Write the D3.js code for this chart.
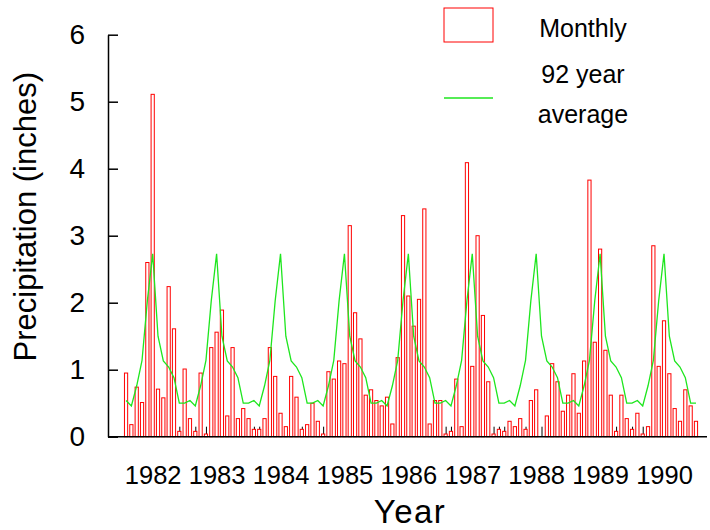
<!DOCTYPE html>
<html>
<head>
<meta charset="utf-8">
<script src="https://cdn.jsdelivr.net/npm/d3@7"></script>
<style>
  html, body { margin: 0; padding: 0; background: #fff; }
  svg { display: block; }
  text { font-family: "Liberation Sans", Arial, sans-serif; fill: #000; }
</style>
</head>
<body>
<svg id="chart" width="710" height="530"></svg>
<script>
// Monthly precipitation (inches), Aug 1981 .. Jul 1990
const monthly = [
  0.95, 0.18, 0.74, 0.51, 2.60, 5.11, 0.71, 0.58, 2.24, 1.61, 0.08, 1.01,
  0.27, 0.08, 0.95, 0.04, 1.33, 1.56, 1.89, 0.31, 1.33, 0.27, 0.42, 0.27,
  0.11, 0.11, 0.27, 1.33, 0.90, 0.35, 0.15, 0.90, 0.59, 0.11, 0.18, 0.50,
  0.23, 0.04, 0.97, 0.86, 1.13, 1.09, 3.15, 1.85, 1.46, 0.62, 0.70, 0.54,
  0.46, 0.59, 0.19, 1.18, 3.30, 2.10, 1.65, 2.05, 3.40, 0.19, 0.54, 0.54,
  0.04, 0.08, 0.86, 0.15, 4.09, 1.05, 3.00, 1.81, 0.82, 0.04, 0.11, 0.08,
  0.23, 0.15, 0.27, 0.11, 0.54, 0.70, 0.00, 0.31, 1.09, 0.82, 0.38, 0.62,
  0.94, 0.35, 1.13, 3.83, 1.41, 2.80, 1.29, 0.62, 0.08, 0.62, 0.27, 0.11,
  0.35, 0.04, 0.15, 2.85, 1.05, 1.73, 0.94, 0.42, 0.23, 0.70, 0.46, 0.23
];
// 92-year average by calendar month (Jan..Dec)
const average92 = [2.73, 1.50, 1.13, 1.04, 0.88, 0.50, 0.50, 0.54, 0.46, 0.76, 1.14, 2.03];
const startYear = 1981, startMonth = 8; // first bar = Aug 1981
const yearLabels = [1982, 1983, 1984, 1985, 1986, 1987, 1988, 1989, 1990];
const yTicks = [0, 1, 2, 3, 4, 5, 6];
const legendLabels = ["Monthly", "92 year", "average"];

const svg = d3.select("#chart");
const font = '"Liberation Sans", Arial, sans-serif';

const x = d3.scaleLinear().domain([-3.39, 109.07]).range([108, 707]);
const y = d3.scaleLinear().domain([0, 6]).range([436.7, 34.7]);

const calMonth = i => (startMonth - 1 + i) % 12; // 0 = Jan
const data = monthly.map((v, i) => ({ i, v, avg: average92[calMonth(i)] }));
// index of January of a given year
const janIdx = yr => (yr - startYear) * 12 - (startMonth - 1);

// monthly minor ticks (drawn under the bars)
const xAxis = d3.axisBottom(x)
  .tickValues(data.map(d => d.i))
  .tickSizeInner(-10).tickSizeOuter(0)
  .tickFormat("");
const gx = svg.append("g").attr("transform", `translate(0,${y(0)})`).call(xAxis);
gx.select(".domain").remove();
gx.selectAll(".tick line").attr("stroke", "#000").attr("stroke-width", 1);

// bars
const bw = 3.2;
svg.append("g").selectAll("rect").data(data.filter(d => d.v > 0)).join("rect")
  .attr("x", d => x(d.i) - bw / 2)
  .attr("y", d => y(d.v))
  .attr("width", bw)
  .attr("height", d => y(0) - y(d.v))
  .attr("fill", "#fff")
  .attr("stroke", "#ff0000")
  .attr("stroke-width", 1);

// 92-year average line
const line = d3.line().x(d => x(d.i)).y(d => y(d.avg));
svg.append("path").datum(data).attr("d", line)
  .attr("fill", "none").attr("stroke", "#1ee61e").attr("stroke-width", 1.3);

// bottom axis line
svg.append("line").attr("x1", 108).attr("x2", 707).attr("y1", y(0)).attr("y2", y(0))
  .attr("stroke", "#000").attr("stroke-width", 1.5);

// year labels
const yearAxis = d3.axisBottom(x)
  .tickValues(yearLabels.map(janIdx))
  .tickSize(0).tickPadding(29)
  .tickFormat((d, k) => yearLabels[k]);
const gy2 = svg.append("g").attr("transform", `translate(0,${y(0)})`).call(yearAxis);
gy2.select(".domain").remove();
gy2.selectAll("text").attr("font-family", font).attr("font-size", 25.5).attr("fill", "#000");

// y axis with inward ticks
const yAxis = d3.axisLeft(y).tickValues(yTicks)
  .tickSizeInner(-10).tickSizeOuter(0).tickPadding(23)
  .tickFormat(d3.format("d"));
const gy = svg.append("g").attr("transform", "translate(108,0)").call(yAxis);
gy.select(".domain").attr("stroke", "#000").attr("stroke-width", 1.5);
gy.selectAll(".tick line").attr("stroke", "#000").attr("stroke-width", 1.5);
gy.selectAll("text").attr("font-family", font).attr("font-size", 28).attr("fill", "#000");

// axis titles
svg.append("text")
  .attr("transform", "translate(36,216.7) rotate(-90)")
  .attr("text-anchor", "middle")
  .attr("font-size", 31)
  .text("Precipitation (inches)");
svg.append("text")
  .attr("x", 410).attr("y", 523)
  .attr("text-anchor", "middle")
  .attr("font-size", 33)
  .attr("letter-spacing", 1.5)
  .text("Year");

// legend
svg.append("rect").attr("x", 444).attr("y", 8).attr("width", 49).attr("height", 34)
  .attr("fill", "none").attr("stroke", "#ff0000").attr("stroke-width", 1);
svg.append("line").attr("x1", 444).attr("x2", 493).attr("y1", 98).attr("y2", 98)
  .attr("stroke", "#1ee61e").attr("stroke-width", 1.3);
svg.append("g").selectAll("text").data(legendLabels).join("text")
  .attr("x", 583)
  .attr("y", (d, k) => [36.7, 83.3, 123.3][k])
  .attr("text-anchor", "middle")
  .attr("font-size", 25)
  .text(d => d);
</script>
</body>
</html>
